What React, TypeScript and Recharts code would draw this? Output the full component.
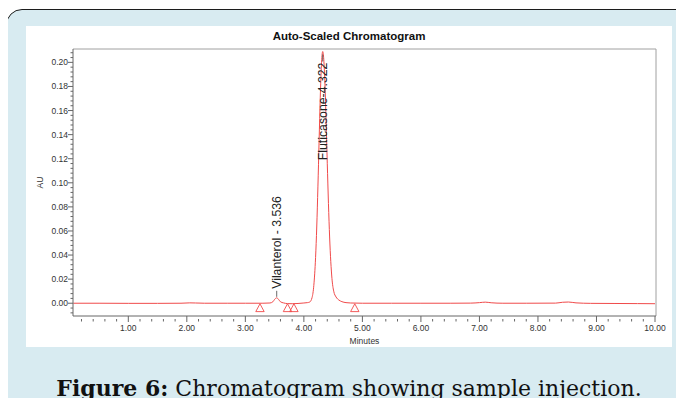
import {
  ComposedChart,
  Line,
  Scatter,
  XAxis,
  YAxis,
  ReferenceLine
} from 'recharts'

// chromatogram trace (minutes, AU)
const TIME = [
  0.06, 0.5, 1.0, 1.5, 1.9, 2.05, 2.15, 2.3, 2.7, 3.0,
  3.3, 3.42, 3.47, 3.5, 3.536, 3.57, 3.6, 3.65, 3.72, 3.8,
  3.9, 4.0, 4.06, 4.1, 4.14, 4.17, 4.2, 4.22, 4.24, 4.26,
  4.28, 4.3, 4.31, 4.322, 4.34, 4.36, 4.38, 4.4, 4.42, 4.44,
  4.46, 4.48, 4.51, 4.55, 4.6, 4.65, 4.72, 4.8, 5.0, 5.5,
  6.0, 6.5, 6.85, 7.0, 7.1, 7.2, 7.4, 7.8, 8.3, 8.42,
  8.52, 8.65, 8.9, 9.3, 9.7, 10.0
]
const AU = [
  0.0, 0.0, -0.0001, -0.0001, 0.0, 0.0003, 0.0002, 0.0, 0.0, 0.0,
  0.0, 0.0002, 0.0012, 0.0032, 0.0045, 0.003, 0.0012, 0.0003, -0.0003, -0.0004,
  -0.0002, 0.0002, 0.0005, 0.001, 0.0047, 0.0148, 0.0379, 0.0633, 0.0966, 0.1345,
  0.1707, 0.1977, 0.2056, 0.209, 0.2025, 0.1819, 0.1511, 0.1162, 0.0828, 0.055,
  0.0345, 0.0205, 0.01, 0.0052, 0.0026, 0.0013, 0.0005, 0.0002, 0.0, 0.0,
  0.0, 0.0, 0.0001, 0.0005, 0.0009, 0.0004, 0.0, 0.0, 0.0001, 0.0008,
  0.001, 0.0003, -0.0001, -0.0002, -0.0003, -0.0004
]

// peak start/end markers (open triangles under the baseline)
const MARK_TIME = [3.25, 3.72, 3.83, 4.87]
const MARK_AU = [-0.0038, -0.0038, -0.0038, -0.0038]

// labelled peaks
const PEAK_NAMES = ['Vilanterol - 3.536', 'Fluticasone-4.322']
const PEAK_TIME = [3.536, 4.322]
const PEAK_AU = [0.0045, 0.209]

const X_MAJOR = [1, 2, 3, 4, 5, 6, 7, 8, 9, 10]
const Y_MAJOR = [0, 0.02, 0.04, 0.06, 0.08, 0.1, 0.12, 0.14, 0.16, 0.18, 0.2]
const X_DOMAIN = [0.055, 10.017]
const Y_DOMAIN = [-0.0106, 0.2111]

const X_TICKS = Array.from({ length: 50 }, (_, i) => +((i + 1) * 0.2).toFixed(1))
const Y_TICKS = Array.from({ length: 55 }, (_, i) => +((i - 2) * 0.004).toFixed(3))

const trace = TIME.map((t, i) => ({ t, au: AU[i] }))
const marks = MARK_TIME.map((t, i) => ({ t, au: MARK_AU[i] }))
const peaks = PEAK_TIME.map((t, i) => ({ t, au: PEAK_AU[i], name: PEAK_NAMES[i] }))

const RED = '#f04a4a'
const FONT = '"Liberation Sans", Arial, sans-serif'

const XTick = ({ x, y, payload }: any) => {
  const v = payload.value
  const major = X_MAJOR.some(m => Math.abs(m - v) < 1e-6)
  return (
    <g>
      <line x1={x} x2={x} y1={major ? y : y + 3} y2={major ? y + 6 : y + 5.5} stroke="#666" />
      {major && (
        <text x={x} y={y + 15} textAnchor="middle" fontSize={8.5} fill="#333" fontFamily={FONT}>
          {v.toFixed(2)}
        </text>
      )}
    </g>
  )
}

const YTick = ({ x, y, payload }: any) => {
  const v = payload.value
  const major = Y_MAJOR.some(m => Math.abs(m - v) < 1e-6)
  return (
    <g>
      <line x1={major ? x - 5 : x - 2.5} x2={x} y1={y} y2={y} stroke="#666" />
      {major && (
        <text x={x - 5} y={y} dy="0.35em" textAnchor="end" fontSize={8.5} fill="#333" fontFamily={FONT}>
          {v.toFixed(2)}
        </text>
      )}
    </g>
  )
}

const AuLabel = ({ viewBox }: any) => {
  const cx = viewBox.x + 14
  const cy = viewBox.y + viewBox.height / 2
  return (
    <text x={cx} y={cy} dy="0.35em" textAnchor="middle" fontSize={8.5} fill="#333"
      fontFamily={FONT} transform={`rotate(-90 ${cx} ${cy})`}>
      AU
    </text>
  )
}

const MinutesLabel = ({ viewBox }: any) => {
  return (
    <text x={viewBox.x + viewBox.width / 2} y={viewBox.y + 28} textAnchor="middle" fontSize={8.5}
      fill="#333" fontFamily={FONT}>
      Minutes
    </text>
  )
}

const Triangle = ({ cx, cy }: any) => (
  <polygon
    points={`${cx},${cy - 4} ${cx + 4.2},${cy + 3.8} ${cx - 4.2},${cy + 3.8}`}
    fill="none"
    stroke={RED}
    strokeWidth={0.9}
  />
)

const PeakLabel = ({ cx, cy, payload }: any) => {
  // tall peak: no room above, so the label hangs below the tick
  const below = cy < 120
  const y1 = below ? cy + 3 : cy - 1
  const y2 = below ? cy + 10 : cy - 7
  const ty = below ? cy + 11 : cy - 9
  return (
    <g>
      <line x1={cx} x2={cx} y1={y1} y2={y2} stroke="#444" strokeWidth={0.8} />
      <text x={cx} y={ty} dy="0.35em" textAnchor={below ? 'end' : 'start'} fontSize={12.3}
        fill="#222" fontFamily={FONT} transform={`rotate(-90 ${cx} ${ty})`}>
        {payload.name}
      </text>
    </g>
  )
}

export default function App() {
  return (
    <div style={{ position: 'relative', width: 684, height: 406, margin: -8, overflow: 'hidden', background: '#fff' }}>
      <div style={{
        position: 'absolute', left: 6, top: 9, width: 720, height: 430,
        border: '1.5px solid #1c1c1c', borderRadius: 16, background: '#d8ebf1'
      }} />
      <div style={{ position: 'absolute', left: 26, top: 26, width: 646, height: 321, background: '#fff' }}>
        <div style={{
          position: 'absolute', left: 0, top: 3, width: 646, textAlign: 'center',
          font: `bold 11.5px ${FONT}`, lineHeight: '14px', color: '#111'
        }}>
          Auto-Scaled Chromatogram
        </div>
        <div style={{ position: 'absolute', left: 0, top: 0 }}>
          <ComposedChart width={646} height={321} margin={{ top: 23, right: 16, bottom: 0, left: 0 }}>
            <XAxis
              dataKey="t"
              type="number"
              domain={X_DOMAIN}
              allowDataOverflow
              ticks={X_TICKS}
              interval={0}
              tickSize={0}
              tickMargin={0}
              tickLine={false}
              tick={<XTick />}
              height={31}
              axisLine={{ stroke: '#666' }}
              label={<MinutesLabel />}
            />
            <YAxis
              type="number"
              domain={Y_DOMAIN}
              allowDataOverflow
              ticks={Y_TICKS}
              interval={0}
              tickSize={0}
              tickMargin={0}
              tickLine={false}
              tick={<YTick />}
              width={47}
              axisLine={{ stroke: '#666' }}
              label={<AuLabel />}
            />
            <ReferenceLine y={Y_DOMAIN[1]} stroke="#a0a0a0" />
            <ReferenceLine x={X_DOMAIN[1]} stroke="#a0a0a0" />
            <Line
              data={trace}
              dataKey="au"
              type="monotone"
              stroke={RED}
              strokeWidth={1}
              dot={false}
              isAnimationActive={false}
            />
            <Scatter data={marks} dataKey="au" shape={<Triangle />} isAnimationActive={false} />
            <Scatter data={peaks} dataKey="au" shape={<PeakLabel />} isAnimationActive={false} />
          </ComposedChart>
        </div>
      </div>
      <div style={{
        position: 'absolute', left: 26, top: 375, width: 646, textAlign: 'center',
        fontFamily: '"DejaVu Serif", serif', fontSize: 22, lineHeight: '26px', color: '#111'
      }}>
        <b>Figure 6:</b> Chromatogram showing sample injection.
      </div>
    </div>
  )
}
